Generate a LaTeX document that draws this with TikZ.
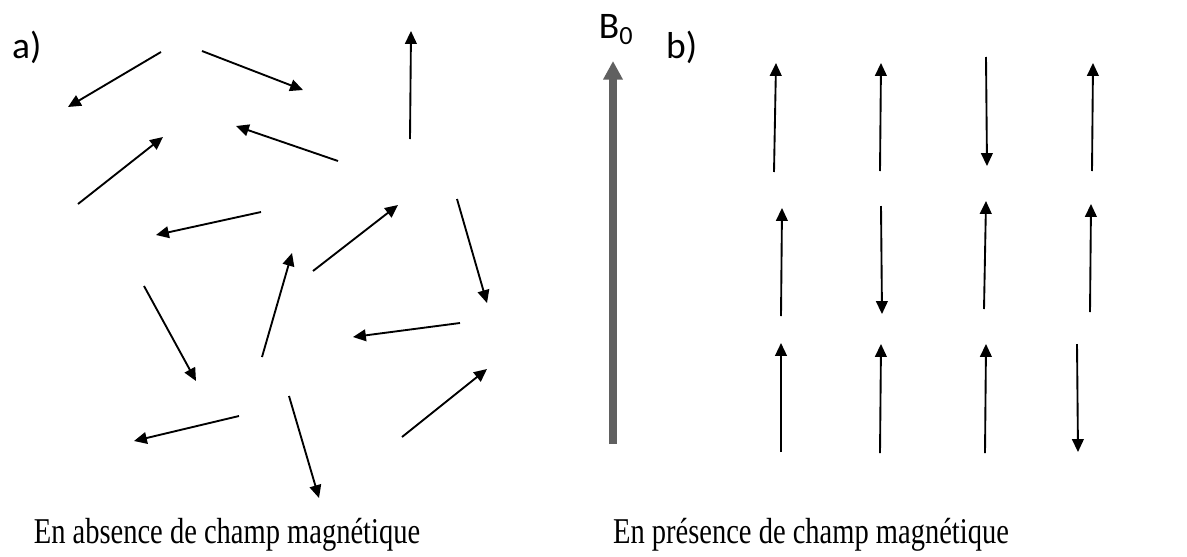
\documentclass[tikz,border=0pt]{standalone}
\usepackage{fontspec}
\setmainfont{Liberation Serif}
\newfontfamily\calib{Carlito}
\usepackage{tikz}
\usetikzlibrary{arrows.meta, positioning}
\definecolor{fieldgray}{RGB}{96,96,96}
\newcommand{\narrowtext}[1]{\scalebox{0.785}[1]{#1}}

\begin{document}
\begin{tikzpicture}[x=0.03cm, y=-0.03cm,
    spin/.style={-{Triangle[length=11pt, width=10pt]}, line width=1.6pt},
    panel/.style={font=\calib\fontsize{32}{38}\selectfont, anchor=base west, inner sep=0pt},
    caption/.style={font=\fontsize{31}{37}\selectfont, anchor=base, inner sep=0pt}]
    \useasboundingbox (0,0) rectangle (1187,556);

    % Panel labels
    \node[panel] (lbla) at (12, 58) {a)};
    \node[panel] (lblb) at (666, 58) {b)};

    % Random spins (no field)
    \foreach \xa/\ya/\xb/\yb in {161/52/68/107, 202/51/303/90, 338/161/236/126,
        78/204/163/137, 261/212/156/235, 410/139/411/31, 313/271/398/205,
        457/199/487/303, 144/286/196/381, 262/357/292/253, 460/323/353/337,
        402/437/487/369, 239/416/134/441, 289/396/319/498}
        \draw[spin] (\xa,\ya) -- (\xb,\yb);

    % Applied field
    \draw[-{Triangle[length=16pt, width=16pt]}, line width=6pt, fieldgray] (613,444) -- (613,61);
    \node[font=\calib\fontsize{32}{38}\selectfont, anchor=base, inner sep=0pt] (bzero) at (616, 38) {B\textsubscript{0}};

    % Aligned spins (with field)
    \foreach \xa/\ya/\xb/\yb in {774/172/776/63, 880/171/881/63, 986/57/987/166, 1092/171/1093/63,
        781/316/782/208, 881/206/882/314, 984/309/986/201, 1090/312/1091/204,
        781/452/781/343, 880/453/881/344, 985/453/986/344, 1077/344/1078/452}
        \draw[spin] (\xa,\ya) -- (\xb,\yb);

    % Captions
    \node[caption] (capa) at (227, 543) {\narrowtext{En absence de champ magnétique}};
    \node[caption] (capb) at (811, 543) {\narrowtext{En présence de champ magnétique}};
\end{tikzpicture}
\end{document}
